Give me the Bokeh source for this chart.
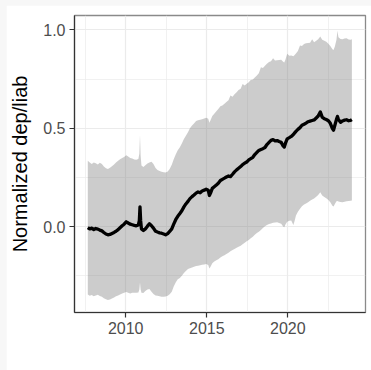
from bokeh.plotting import figure
from bokeh.layouts import column
from bokeh.models import Range1d, FixedTicker, ColumnDataSource
from bokeh.embed import file_html
from bokeh.resources import INLINE

# Time axis (decimal years) with the series mean and its band
years = [2007.66, 2007.78, 2007.90, 2008.03, 2008.15, 2008.28, 2008.40, 2008.53,
         2008.65, 2008.78, 2008.90, 2009.03, 2009.15, 2009.28, 2009.40, 2009.53,
         2009.65, 2009.78, 2009.90, 2010.03, 2010.15, 2010.28, 2010.40, 2010.53,
         2010.65, 2010.78, 2010.84, 2010.88, 2010.92, 2010.97, 2011.09, 2011.21,
         2011.34, 2011.46, 2011.59, 2011.71, 2011.84, 2011.96, 2012.09, 2012.21,
         2012.34, 2012.46, 2012.59, 2012.71, 2012.84, 2012.96, 2013.09, 2013.21,
         2013.34, 2013.46, 2013.59, 2013.71, 2013.84, 2013.96, 2014.09, 2014.21,
         2014.34, 2014.46, 2014.59, 2014.71, 2014.84, 2014.96, 2015.09, 2015.16,
         2015.23, 2015.34, 2015.46, 2015.59, 2015.71, 2015.84, 2015.96, 2016.09,
         2016.21, 2016.34, 2016.46, 2016.59, 2016.71, 2016.84, 2016.96, 2017.09,
         2017.21, 2017.34, 2017.46, 2017.59, 2017.71, 2017.84, 2017.96, 2018.09,
         2018.21, 2018.34, 2018.46, 2018.59, 2018.71, 2018.84, 2018.96, 2019.09,
         2019.21, 2019.34, 2019.46, 2019.59, 2019.71, 2019.78, 2019.86, 2019.96,
         2020.09, 2020.21, 2020.34, 2020.42, 2020.50, 2020.62, 2020.75, 2020.87,
         2021.00, 2021.12, 2021.25, 2021.37, 2021.50, 2021.62, 2021.75, 2021.87,
         2022.00, 2022.12, 2022.25, 2022.37, 2022.50, 2022.62, 2022.75, 2022.82,
         2022.90, 2023.00, 2023.06, 2023.12, 2023.25, 2023.37, 2023.50, 2023.62,
         2023.75, 2023.87, 2023.95]

mean = [-0.005, -0.012, -0.008, -0.015, -0.010, -0.013, -0.018, -0.022,
        -0.030, -0.038, -0.042, -0.040, -0.035, -0.030, -0.024, -0.016,
        -0.006, 0.004, 0.012, 0.024, 0.018, 0.012, 0.009, 0.006,
        0.004, 0.008, 0.030, 0.100, 0.030, -0.012, -0.020, -0.012,
        0.002, 0.014, 0.004, -0.008, -0.024, -0.028, -0.032, -0.034,
        -0.038, -0.042, -0.036, -0.025, -0.012, 0.012, 0.036, 0.052,
        0.066, 0.080, 0.100, 0.115, 0.128, 0.142, 0.152, 0.160,
        0.170, 0.176, 0.172, 0.181, 0.185, 0.190, 0.185, 0.158,
        0.170, 0.194, 0.202, 0.211, 0.220, 0.234, 0.240, 0.246,
        0.252, 0.257, 0.254, 0.266, 0.278, 0.288, 0.296, 0.305,
        0.315, 0.322, 0.328, 0.339, 0.345, 0.352, 0.366, 0.377,
        0.387, 0.392, 0.396, 0.402, 0.417, 0.428, 0.438, 0.442,
        0.436, 0.437, 0.432, 0.428, 0.410, 0.404, 0.425, 0.446,
        0.452, 0.458, 0.468, 0.476, 0.484, 0.494, 0.503, 0.515,
        0.520, 0.526, 0.533, 0.536, 0.539, 0.542, 0.552, 0.562,
        0.583, 0.556, 0.548, 0.544, 0.538, 0.525, 0.498, 0.490,
        0.515, 0.545, 0.560, 0.545, 0.530, 0.537, 0.541, 0.543,
        0.538, 0.540, 0.544]

upper = [0.335, 0.325, 0.318, 0.326, 0.322, 0.316, 0.324, 0.318,
         0.305, 0.296, 0.292, 0.299, 0.306, 0.316, 0.326, 0.334,
         0.342, 0.348, 0.354, 0.362, 0.356, 0.348, 0.346, 0.341,
         0.340, 0.344, 0.370, 0.465, 0.360, 0.310, 0.303, 0.312,
         0.320, 0.326, 0.330, 0.318, 0.298, 0.287, 0.282, 0.279,
         0.276, 0.275, 0.280, 0.292, 0.314, 0.342, 0.368, 0.388,
         0.403, 0.422, 0.445, 0.462, 0.480, 0.500, 0.514, 0.524,
         0.536, 0.541, 0.543, 0.546, 0.549, 0.553, 0.548, 0.528,
         0.540, 0.562, 0.574, 0.586, 0.598, 0.612, 0.616, 0.624,
         0.633, 0.642, 0.666, 0.660, 0.672, 0.683, 0.694, 0.700,
         0.725, 0.717, 0.726, 0.733, 0.745, 0.748, 0.758, 0.768,
         0.780, 0.810, 0.806, 0.818, 0.828, 0.836, 0.840, 0.856,
         0.844, 0.846, 0.847, 0.848, 0.838, 0.834, 0.850, 0.878,
         0.868, 0.870, 0.866, 0.872, 0.880, 0.893, 0.920, 0.918,
         0.928, 0.932, 0.933, 0.934, 0.952, 0.937, 0.944, 0.952,
         0.966, 0.950, 0.944, 0.940, 0.930, 0.918, 0.902, 0.898,
         0.915, 0.950, 0.996, 0.962, 0.954, 0.952, 0.956, 0.957,
         0.951, 0.950, 0.952]

lower = [-0.345, -0.352, -0.348, -0.354, -0.350, -0.347, -0.353, -0.357,
         -0.364, -0.370, -0.373, -0.371, -0.366, -0.361, -0.355, -0.350,
         -0.345, -0.341, -0.337, -0.333, -0.337, -0.341, -0.337, -0.336,
         -0.337, -0.335, -0.320, -0.285, -0.320, -0.336, -0.338, -0.328,
         -0.320, -0.318, -0.332, -0.343, -0.350, -0.352, -0.354, -0.357,
         -0.357, -0.356, -0.352, -0.344, -0.331, -0.305, -0.283, -0.268,
         -0.262, -0.250, -0.236, -0.226, -0.216, -0.212, -0.208, -0.204,
         -0.201, -0.199, -0.197, -0.194, -0.193, -0.190, -0.195, -0.213,
         -0.205, -0.186, -0.178, -0.171, -0.166, -0.158, -0.151, -0.146,
         -0.140, -0.133, -0.126, -0.119, -0.114, -0.108, -0.103, -0.098,
         -0.090, -0.083, -0.075, -0.068, -0.060, -0.052, -0.042, -0.033,
         -0.026, -0.018, -0.008, 0.002, 0.008, 0.013, 0.016, 0.019,
         0.021, 0.022, 0.018, 0.014, 0.000, -0.004, 0.012, 0.025,
         0.030, 0.031, 0.008, 0.030, 0.056, 0.075, 0.090, 0.103,
         0.112, 0.117, 0.124, 0.131, 0.137, 0.142, 0.152, 0.161,
         0.175, 0.158, 0.150, 0.144, 0.135, 0.124, 0.106, 0.102,
         0.115, 0.128, 0.130, 0.127, 0.125, 0.124, 0.126, 0.129,
         0.130, 0.131, 0.133]

x_ticks = [2010, 2015, 2020]
x_minor = [2007.5, 2012.5, 2017.5, 2022.5]
y_ticks = [0.0, 0.5, 1.0]
y_minor = [-0.25, 0.25, 0.75]

src = ColumnDataSource(dict(x=years, m=mean, lo=lower, hi=upper))

FONT = "Liberation Sans"

p = figure(width=365, height=365, output_backend="svg", toolbar_location=None,
           x_range=Range1d(2006.84, 2024.79), y_range=Range1d(-0.437, 1.073),
           min_border_left=67, min_border_right=6, min_border_top=10,
           min_border_bottom=58)
p.margin = (5, 0, 0, 6)
p.background_fill_color = "white"
p.border_fill_color = "white"
p.outline_line_color = "#8a8a8a"
p.outline_line_width = 1.3

# band and mean line
p.varea(x="x", y1="lo", y2="hi", source=src, fill_color="#808080", fill_alpha=0.4)
p.line(x="x", y="m", source=src, line_color="black", line_width=3.3,
       line_join="round")

for ax, ticks, minor in ((p.xaxis[0], x_ticks, x_minor), (p.yaxis[0], y_ticks, y_minor)):
    ax.ticker = FixedTicker(ticks=ticks, minor_ticks=minor)
    ax.axis_line_color = "#333333"
    ax.axis_line_width = 1.2
    ax.major_tick_line_color = "#333333"
    ax.major_tick_line_width = 1.2
    ax.major_tick_in = 0
    ax.major_tick_out = 5
    ax.minor_tick_in = 0
    ax.minor_tick_out = 0
    ax.major_label_text_font = FONT
    ax.major_label_text_font_size = "16px"
    ax.major_label_text_color = "#4d4d4d"
    ax.major_label_standoff = 4

p.xaxis[0].major_label_overrides = {2010: "2010", 2015: "2015", 2020: "2020"}
p.yaxis[0].major_label_overrides = {0.0: "0.0", 0.5: "0.5", 1.0: "1.0"}

p.yaxis[0].axis_label = "Normalized dep/liab"
p.yaxis[0].axis_label_text_font = FONT
p.yaxis[0].axis_label_text_font_size = "20px"
p.yaxis[0].axis_label_text_font_style = "normal"
p.yaxis[0].axis_label_text_color = "black"
p.yaxis[0].axis_label_standoff = 9

for g in (p.xgrid[0], p.ygrid[0]):
    g.grid_line_color = "#ebebeb"
    g.grid_line_width = 1.2
    g.minor_grid_line_color = "#ebebeb"
    g.minor_grid_line_width = 0.7

layout = column(p, styles={"background-color": "#f7f7f7"})

open("out.html", "w").write(file_html(layout, INLINE))
